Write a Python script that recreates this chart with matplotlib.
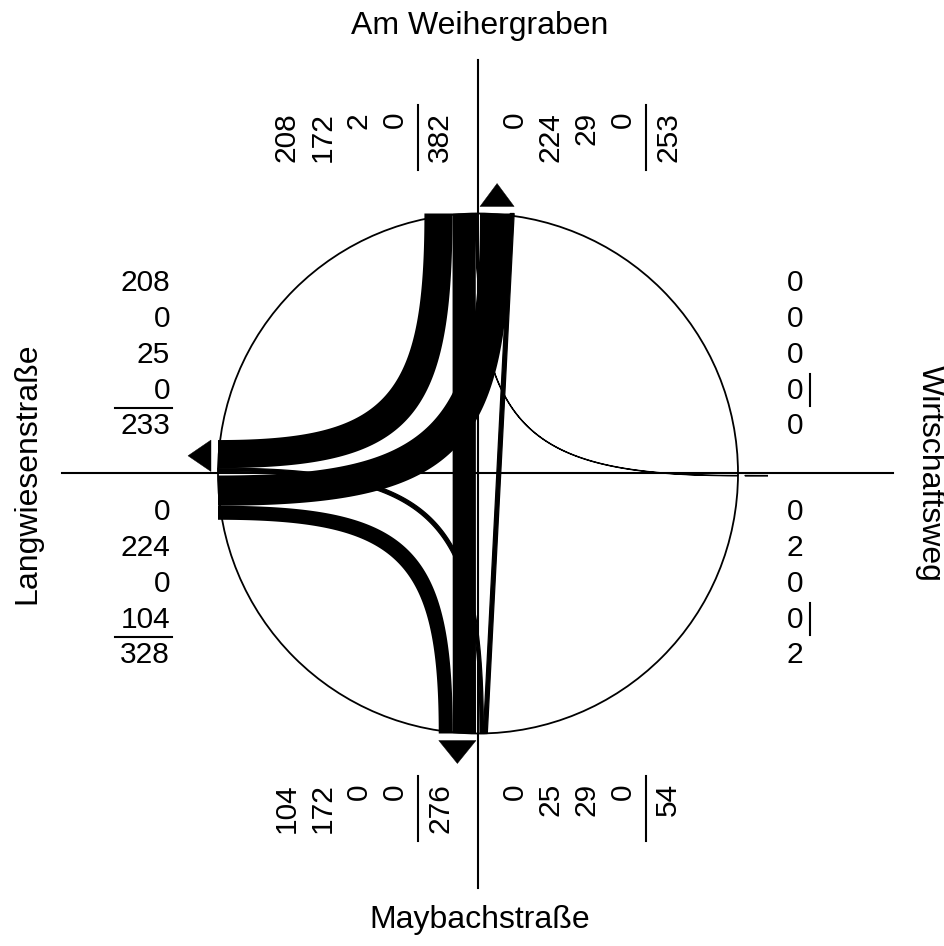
import matplotlib
matplotlib.use('Agg')
import matplotlib.pyplot as plt
from matplotlib.patches import Polygon, Circle
import numpy as np

plt.rcParams['font.family'] = ['Liberation Sans', 'DejaVu Sans']

# street names, counter-clockwise from north
street_names = ['Am Weihergraben', 'Langwiesenstraße', 'Maybachstraße', 'Wirtschaftsweg']

# volumes as printed next to each arm
north_in = [208, 172, 2, 0]     # right, straight, left, u-turn
north_out = [0, 224, 29, 0]
west_out = [208, 0, 25, 0]
west_in = [0, 224, 0, 104]      # u-turn, left, straight, right
south_out = [104, 172, 0, 0]
south_in = [0, 25, 29, 0]       # u-turn, left, straight, right
east_in = [0, 0, 0, 0]          # right, straight, left, u-turn
east_out = [0, 2, 0, 0]

turns = [
    dict(zip(['right', 'straight', 'left', 'u'], north_in)),
    dict(zip(['u', 'left', 'straight', 'right'], west_in)),
    dict(zip(['u', 'left', 'straight', 'right'], south_in)),
    dict(zip(['right', 'straight', 'left', 'u'], east_in)),
]
turn_offset = {'u': 0, 'right': 1, 'straight': 2, 'left': 3}

R = 260.0        # circle radius (px)
SCALE = 0.135    # band width per vehicle (px)
GAP = 2.0        # gap between band groups and the axis
K = 0.82         # bezier pull towards the corner

U = [np.array(p, float) for p in [(0, 1), (-1, 0), (0, -1), (1, 0)]]
V = [np.array((-u[1], u[0])) for u in U]

fig = plt.figure(figsize=(9.44, 9.46), dpi=100)
ax = fig.add_axes([0, 0, 1, 1])
ax.set_xlim(-478, 466)
ax.set_ylim(-472.5, 473.5)
ax.axis('off')

# cross-section axes and circle
ax.plot([0, 0], [-414.5, 413.5], color='black', lw=1.5, zorder=1)
ax.plot([-416, 415], [0, 0], color='black', lw=1.5, zorder=1)
ax.add_patch(Circle((0, 0), R, fill=False, ec='black', lw=1.3, zorder=1))

# lateral stacking of movements on each arm
flows = []
for a in range(4):
    for name in ['u', 'left', 'straight', 'right']:
        vol = turns[a][name]
        flows.append((a, (a + turn_offset[name]) % 4, name, vol))

in_pos = {}
for a in range(4):
    s = GAP
    for name in ['u', 'left', 'straight', 'right']:
        w = turns[a][name] * SCALE
        in_pos[(a, name)] = (s, s + w)
        s += w

out_pos = {}
out_total = [0] * 4
for b in range(4):
    s = GAP
    for name, origin in [('u', b), ('left', (b + 1) % 4),
                         ('straight', (b + 2) % 4), ('right', (b + 3) % 4)]:
        w = turns[origin][name] * SCALE
        out_pos[(origin, name)] = (-s, -(s + w))
        s += w
        out_total[b] += turns[origin][name]


def edge(a, s0, b, s3, name):
    p0 = R * U[a] + s0 * V[a]
    p3 = R * U[b] + s3 * V[b]
    t = np.linspace(0, 1, 120)[:, None]
    if name == 'straight':
        return p0 + t * (p3 - p0)
    c = s0 * V[a] + s3 * V[b]
    p1 = p0 + K * (c - p0)
    p2 = p3 + K * (c - p3)
    return ((1 - t) ** 3 * p0 + 3 * (1 - t) ** 2 * t * p1
            + 3 * (1 - t) * t ** 2 * p2 + t ** 3 * p3)


for a, b, name, vol in flows:
    if vol == 0 or name == 'u':
        continue
    si0, si1 = in_pos[(a, name)]
    so0, so1 = out_pos[(a, name)]
    inner = edge(a, si0, b, so0, name)
    outer = edge(a, si1, b, so1, name)
    pts = np.vstack([inner, outer[::-1]])
    lw = 0.9 if vol * SCALE < 4 else 0.0
    ax.add_patch(Polygon(pts, closed=True, fc='black', ec='black', lw=lw, zorder=2))

# outgoing arrows
for b in range(4):
    w = out_total[b] * SCALE
    base0 = (R + 7) * U[b] - GAP * V[b]
    base1 = (R + 7) * U[b] - (GAP + w) * V[b]
    tip = (R + 30) * U[b] - (GAP + w / 2) * V[b]
    ax.add_patch(Polygon([base0, base1, tip], closed=True, fc='black',
                         ec='black', lw=1.0 if w < 4 else 0.3, zorder=2))

FS = 21.5
TS = 23
LS = 36

# north and south: vertical columns
for values, x0, y_top in [
        (north_in, -191, 361.5), (north_out, 37, 361.5),
        (south_out, -191, -309.5), (south_in, 37, -309.5)]:
    for i, v in enumerate(values):
        ax.text(x0 + i * LS, y_top, str(v), rotation=90, ha='center', va='top', fontsize=FS)
    bx = x0 + 3 * LS + 23
    ax.plot([bx, bx], [y_top + 7, y_top - 58], color='black', lw=1.5)
    ax.text(bx + 22, y_top, str(sum(values)), rotation=90, ha='center', va='top', fontsize=FS)

# west and east: rows
for values, x, y0, ha in [
        (west_out, -308, 190.5, 'right'), (west_in, -308, -38.5, 'right'),
        (east_in, 309, 190.5, 'left'), (east_out, 309, -38.5, 'left')]:
    for i, v in enumerate(values):
        ax.text(x, y0 - i * LS, str(v), ha=ha, va='center', fontsize=FS)
    by = y0 - 3 * LS - 17
    if ha == 'right':
        ax.plot([x - 55, x + 2], [by, by], color='black', lw=1.5)
    else:
        ax.plot([x + 23, x + 23], [by + 34, by + 2], color='black', lw=1.5)
    ax.text(x, by - 18, str(sum(values)), ha=ha, va='center', fontsize=FS)

# street names
ax.text(2, 447, street_names[0], ha='center', va='center', fontsize=TS)
ax.text(-451, 0, street_names[1], ha='center', va='center', rotation=90, fontsize=TS)
ax.text(2, -446, street_names[2], ha='center', va='center', fontsize=TS)
ax.text(452, 0, street_names[3], ha='center', va='center', rotation=270, fontsize=TS)

fig.savefig('out.png', dpi=100, facecolor='white')
